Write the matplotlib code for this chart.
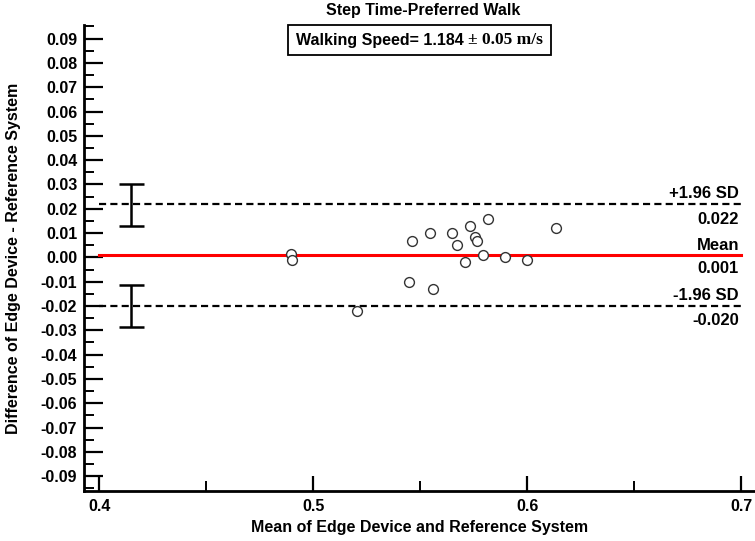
import numpy as np
import matplotlib.pyplot as plt
from matplotlib.patches import Rectangle

# data: mean of both systems vs difference (edge - reference)
mean_vals = [0.4894, 0.4901, 0.5205, 0.5461, 0.5547, 0.5647, 0.5731, 0.5816, 0.5673,
             0.5757, 0.5763, 0.5791, 0.5707, 0.5896, 0.6000, 0.6136, 0.5446, 0.5561]
diff_vals = [0.0012, -0.0012, -0.0221, 0.0068, 0.0099, 0.0099, 0.0129, 0.0159, 0.0049,
             0.0084, 0.0068, 0.0009, -0.0019, 0.0000, -0.0011, 0.0121, -0.0100, -0.0130]

bias = 0.001
upper_loa = 0.022
lower_loa = -0.020
# confidence intervals of the limits of agreement
upper_ci = (0.0130, 0.0302)
lower_ci = (-0.0286, -0.0114)
ci_x = 0.4146

line_x = (0.4, 0.7)
xticks = [0.4, 0.5, 0.6, 0.7]
yticks = [i / 100 for i in range(-9, 10)]

plt.rcParams['font.family'] = ['Liberation Sans', 'DejaVu Sans']
plt.rcParams['font.weight'] = 'bold'

W, H = 755, 541
fig = plt.figure(figsize=(W / 100, H / 100), dpi=100)
ax = fig.add_axes([84.3 / W, 1 - 490.7 / H, 1 - 84.3 / W, (490.7 - 25) / H])

# reference lines
ax.plot(line_x, [bias, bias], color='#ff0000', lw=2.2, zorder=2)
ax.plot(line_x, [upper_loa, upper_loa], color='black', lw=1.6, ls=(0, (3.2, 1.9)), zorder=2)
ax.plot(line_x, [lower_loa, lower_loa], color='black', lw=1.6, ls=(0, (3.2, 1.9)), zorder=2)

# CI error bars
for lo, hi in (upper_ci, lower_ci):
    ax.errorbar([ci_x], [(lo + hi) / 2], yerr=[[(hi - lo) / 2], [(hi - lo) / 2]],
                fmt='none', ecolor='black', elinewidth=1.8, capsize=9, capthick=1.8)

# points
ax.scatter(mean_vals, diff_vals, s=50, facecolors='white', edgecolors='#333333',
           linewidths=1.0, zorder=3)

# labels at the right
lbl = dict(textcoords='offset pixels', ha='right', va='center', fontsize=12,
           fontweight='bold', annotation_clip=False)
ax.annotate('+1.96 SD', (0.699, upper_loa), xytext=(0, 10), **lbl)
ax.annotate('%.3f' % upper_loa, (0.699, upper_loa), xytext=(0, -16), **lbl)
ax.annotate('Mean', (0.699, bias), xytext=(0, 9), **lbl)
ax.annotate('%.3f' % bias, (0.699, bias), xytext=(0, -14), **lbl)
ax.annotate('-1.96 SD', (0.699, lower_loa), xytext=(0, 10), **lbl)
ax.annotate('%.3f' % lower_loa, (0.699, lower_loa), xytext=(0, -15), **lbl)

# axes
ax.set_xlim(0.3929, 0.7065)
ax.set_ylim(-0.096, 0.0956)
ax.set_xticks(xticks)
ax.set_xticks([0.45, 0.55, 0.65], minor=True)
ax.set_xticklabels(['%.1f' % v for v in xticks], fontsize=11.5, fontweight='bold')
ax.set_yticks(yticks)
ax.set_yticks(np.arange(-0.095, 0.0951, 0.01), minor=True)
ax.set_yticklabels(['%.2f' % v for v in yticks], fontsize=11.5, fontweight='bold')
ax.tick_params(axis='y', which='major', direction='in', length=14, width=1.6, pad=5)
ax.tick_params(axis='y', which='minor', direction='in', length=7, width=1.4)
ax.tick_params(axis='x', which='major', direction='in', length=11, width=1.6, pad=6)
ax.tick_params(axis='x', which='minor', direction='in', length=7, width=1.4)

for s in ('top', 'right'):
    ax.spines[s].set_visible(False)
for s in ('left', 'bottom'):
    ax.spines[s].set_linewidth(2)

ax.set_xlabel('Mean of Edge Device and Reference System', fontsize=11.5,
              fontweight='bold', labelpad=4)
fig.text(14 / W, 1 - 258 / H, 'Difference of Edge Device - Reference System',
         rotation=90, ha='center', va='center', fontsize=11.5, fontweight='bold')

# title and speed box
fig.text(423 / W, 1 - 11 / H, 'Step Time-Preferred Walk', ha='center', va='center',
         fontsize=11.5, fontweight='bold')
t1 = fig.text(296 / W, 1 - 40 / H, 'Walking Speed= 1.184 ', ha='left', va='center',
              fontsize=11.5, fontweight='bold')
ax.annotate('\u00b1 0.05 m/s', xy=(1, 0), xycoords=t1, va='bottom', ha='left',
            fontsize=12.5, fontweight='bold', family=['Liberation Serif', 'DejaVu Serif'])
fig.add_artist(Rectangle((288 / W, 1 - 55 / H), 263 / W, 30 / H, transform=fig.transFigure,
                         fill=False, lw=1.3, edgecolor='black'))

fig.savefig('out.png', dpi=100)
